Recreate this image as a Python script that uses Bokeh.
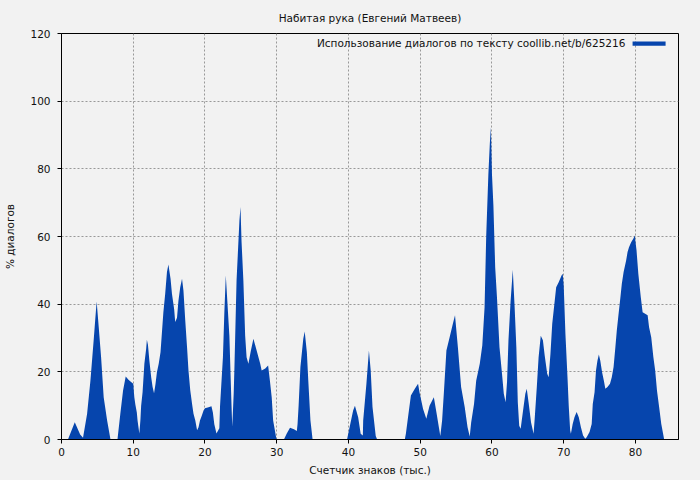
from bokeh.plotting import figure
from bokeh.models import Range1d, FixedTicker, Label, BoxAnnotation, ColumnDataSource, Title
from bokeh.embed import file_html
from bokeh.resources import INLINE

# Counter of characters (thousands) and share of dialogue (%)
x_vals = [0.9, 1.85, 2.6, 3.0, 3.57, 4.03, 4.5, 4.73, 4.9, 5.19, 5.52, 5.88, 6.36, 6.83,
          7.8, 8.2, 8.58, 8.95, 9.37, 9.7, 10.0, 10.15, 10.3, 10.5, 10.6, 10.85,
          11.0, 11.1, 11.3, 11.55, 11.8, 11.9, 12.05, 12.25, 12.5, 12.7, 12.9,
          13.1, 13.3, 13.55, 13.8, 14.0, 14.2, 14.45, 14.7, 14.9, 15.2, 15.4, 15.7,
          15.85, 16.1, 16.3, 16.55, 16.8, 17.0, 17.25, 17.5, 17.7, 17.95, 18.2, 18.4,
          18.65, 18.9, 19.1, 19.3, 19.55, 19.8, 20.0, 20.5, 20.9, 21.1, 21.3, 21.6,
          22.0, 22.1, 22.5, 22.7, 22.9, 23.0, 23.4, 23.7, 23.8, 24.0, 24.1, 24.4,
          24.8, 24.95, 25.1, 25.35, 25.6, 25.8, 26.05, 26.4, 26.75, 27.2, 27.7, 27.9,
          28.4, 28.8, 29.05, 29.3, 29.5, 29.9, 30.0,
          31.0, 31.4, 31.85, 32.4, 32.8, 32.9, 33.05, 33.3, 33.7, 33.9, 34.2, 34.4,
          34.7, 35.0,
          39.8, 40.2, 40.65, 40.9, 41.35, 41.7, 42.0, 42.05, 42.5, 42.85, 43.1,
          43.35, 43.8, 44.0,
          47.85, 48.0, 48.3, 48.7, 49.25, 49.7, 49.9, 50.4, 50.85, 51.3, 51.9, 52.25,
          52.6, 52.8, 53.05, 53.3, 53.65, 54.1, 54.55, 54.85, 55.25, 55.7, 56.2,
          56.6, 56.9, 57.1, 57.5, 57.8, 58.3, 58.65, 58.97, 59.2, 59.5, 59.7, 59.85,
          60.0, 60.2, 60.45, 60.7, 61.05, 61.4, 61.65, 61.9, 62.1, 62.3, 62.6, 62.8,
          62.9, 63.15, 63.4, 63.6, 63.8, 64.0, 64.15, 64.4, 64.65, 64.85, 65.1,
          65.45, 65.8, 65.95, 66.25, 66.5, 66.8, 67.1, 67.35, 67.7, 67.9, 68.15,
          68.4, 68.6, 68.95, 69.3, 69.7, 69.86, 70.0, 70.24, 70.55, 70.7, 70.9,
          71.0, 71.25, 71.5, 71.8, 72.1, 72.4, 72.7, 73.0, 73.2, 73.6, 73.9, 74.05,
          74.3, 74.5, 74.7, 74.9, 75.1, 75.35, 75.6, 75.8, 76.1, 76.45, 76.7, 76.95,
          77.2, 77.4, 77.65, 77.9, 78.1, 78.35, 78.7, 78.9, 79.1, 79.4, 79.7, 79.9,
          80.15, 80.4, 80.75, 81.0, 81.35, 81.7, 81.9, 82.2, 82.5, 82.75, 83.0,
          83.3, 83.6, 83.9, 84.0]
y_vals = [0, 5.1, 1.5, 0.5, 7.6, 17.4, 29.8, 36.2, 40.8, 33.2, 24.3, 12.5, 5.6, 0,
          0, 7.6, 14.5, 18.6, 17.6, 17.0, 16.5, 12.5, 10.3, 8.0, 5.6, 1.8,
          5.8, 10, 14, 22.4, 26.8, 29.5, 28, 23.3, 18.4, 15.5, 13.7,
          16.4, 19.9, 22.4, 25.8, 31.7, 37.6, 43, 49.5, 51.7, 47.5, 43, 38.6,
          34.7, 36, 41, 45, 47.5, 44, 35.2, 27.3, 20.4, 14.5, 10.5, 7.6,
          5.6, 2.7, 3.6, 5.6, 7.0, 8.6, 9.2, 9.5, 9.8, 8, 4.5, 1.8,
          3.3, 10, 24.3, 37.6, 48.5, 45, 30.7, 10, 3.8, 13.5, 21, 47,
          64.7, 68.7, 58.3, 47, 30.7, 24.3, 22.4, 26.3, 29.8, 26.3, 22.4, 20.4,
          21, 21.9, 17.4, 12.5, 5.6, 0.8, 0,
          0, 1.8, 3.5, 3.0, 2.5, 4.5, 10, 21.4, 29.8, 31.9, 25.8, 17.4,
          5.6, 0,
          0, 4.1, 8.6, 10, 6.6, 1.7, 1.2, 5.6, 16.5, 26.3, 20.4,
          9.6, 1.0, 0,
          0, 1.7, 6.6, 13, 15, 16.5, 14, 9, 6.1, 10, 12.5, 8.1,
          3.6, 1, 5.6, 14, 26.3, 30.2, 34.2, 36.7, 27.3, 15.5, 9.6,
          3.6, 0.9, 5, 10.5, 17.4, 22.4, 27.8, 39.1, 60.3, 78.5, 87.4, 92.3,
          78.5, 69.2, 50.9, 42, 27.3, 19.4, 13.5, 11, 17, 29.3, 41, 47,
          50.2, 39.6, 27.3, 11, 4.1, 3.2, 5.6, 9.6, 13.5, 15, 11,
          5, 1.7, 6, 15.5, 24.3, 30.7, 29.3, 24.8, 19.4, 18.4, 25.3,
          34.2, 38.1, 45, 46.5, 48.5, 49, 45.5, 31.2, 17.4, 10, 2.7,
          1.7, 4.6, 6.6, 8.1, 6.6, 3.6, 1.2, 0.2, 0.7, 2.2, 4.6, 10.5,
          14, 20.4, 23.3, 25.1, 23.3, 19.9, 17.4, 15, 15.5, 16.5, 18.4, 21.4,
          27.3, 32.2, 37.2, 42, 46, 49.5, 52.9, 55.4, 56.8, 58.3, 59.3, 60.3,
          55.9, 49, 42, 37.6, 37.2, 36.7, 33.2, 30.2, 24.3, 20.4, 14.5,
          9.6, 4.6, 1.2, 0]
x_ticks = [0, 10, 20, 30, 40, 50, 60, 70, 80]
y_ticks = [0, 20, 40, 60, 80, 100, 120]

title_text = "Набитая рука (Евгений Матвеев)"
legend_text = "Использование диалогов по тексту coollib.net/b/625216"
x_label = "Счетчик знаков (тыс.)"
y_label = "% диалогов"

BG = "#f2f2f2"
BLUE = "#0645ad"
FONT = "DejaVu Sans"
FS = "10.5px"

p = figure(width=700, height=480, output_backend="svg", toolbar_location=None,
           x_range=Range1d(0, 86), y_range=Range1d(0, 120),
           min_border_left=61, min_border_right=22, min_border_top=33, min_border_bottom=41)
p.background_fill_color = BG
p.border_fill_color = BG
p.outline_line_color = "black"
p.outline_line_width = 1

t = Title(text=title_text, align="center", text_font=FONT, text_font_size=FS,
          text_font_style="normal", text_color="#111111", offset=0, standoff=19)
p.add_layout(t, "above")

src = ColumnDataSource(dict(x=x_vals, y=y_vals, base=[0] * len(x_vals)))
p.varea(x="x", y1="base", y2="y", source=src, fill_color=BLUE)

for ax in (p.xaxis[0], p.yaxis[0]):
    ax.axis_line_color = "black"
    ax.major_tick_line_color = "black"
    ax.major_tick_out = 4
    ax.major_tick_in = 0
    ax.minor_tick_line_color = None
    ax.major_label_text_font = FONT
    ax.major_label_text_font_size = FS
    ax.major_label_text_color = "#111111"
    ax.axis_label_text_font = FONT
    ax.axis_label_text_font_size = FS
    ax.axis_label_text_font_style = "normal"
    ax.axis_label_text_color = "#111111"

p.xaxis.ticker = FixedTicker(ticks=x_ticks)
p.yaxis.ticker = FixedTicker(ticks=y_ticks)
p.xaxis.axis_label = x_label
p.yaxis.axis_label = y_label
p.xaxis.major_label_standoff = 4
p.xaxis.axis_label_standoff = 5
p.yaxis.major_label_standoff = 7
p.yaxis.axis_label_standoff = 11

for g in (p.xgrid[0], p.ygrid[0]):
    g.grid_line_color = "#999999"
    g.grid_line_dash = "2 2"
    g.grid_line_width = 1

leg = Label(x=78.6, y=117.2, text=legend_text, text_align="right", text_baseline="middle",
            text_font=FONT, text_font_size=FS, text_color="#111111")
p.add_layout(leg)
p.add_layout(BoxAnnotation(left=79.6, right=84.2, bottom=116.4, top=117.6,
                           fill_color=BLUE, fill_alpha=1, line_color=None))

html = file_html(p, INLINE)
html = html.replace("<head>", "<head><style>html,body{background:#f2f2f2;}</style>", 1)
open("out.html", "w").write(html)
